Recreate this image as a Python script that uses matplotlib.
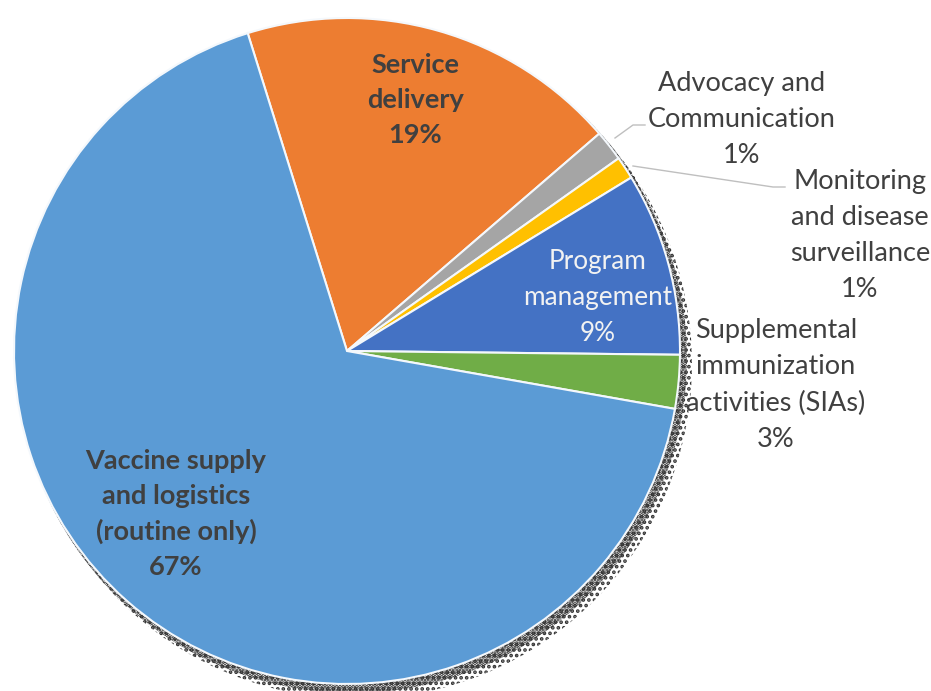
import matplotlib.pyplot as plt
from matplotlib.patches import Circle

# Data (share of spending, %)
labels = ["Service\ndelivery", "Advocacy and\nCommunication", "Monitoring\nand disease\nsurveillance",
          "Program\nmanagement", "Supplemental\nimmunization\nactivities (SIAs)",
          "Vaccine supply\nand logistics\n(routine only)"]
values = [18.5, 1.5, 1.1, 8.9, 2.6, 67.4]
pct_labels = ["19%", "1%", "1%", "9%", "3%", "67%"]
colors = ["#ED7D31", "#A5A5A5", "#FFC000", "#4472C4", "#70AD47", "#5B9BD5"]

W, H = 931, 691
fig = plt.figure(figsize=(W / 100, H / 100), dpi=100)
ax = fig.add_axes([0, 0, 1, 1])

cx, cy, r = 347, H - 351, 333
plt.rcParams['hatch.linewidth'] = 1.8

# dithered shadow behind the pie
ax.add_patch(Circle((cx + 5, cy - 7), r + 2, facecolor='none', edgecolor='#222222',
                    linewidth=0, hatch='.....', zorder=0))
ax.add_patch(Circle((cx + 10, cy - 13), r + 2, facecolor='none', edgecolor='#333333',
                    linewidth=0, hatch='...', zorder=0))

wedges, _ = ax.pie(values, colors=colors, startangle=107.35, counterclock=False,
                   center=(cx, cy), radius=r,
                   wedgeprops=dict(edgecolor='#F4F8FC', linewidth=1.5))
for w in wedges:
    w.set_zorder(1)

font = 'Lato'
dark = '#404040'
fs = 19.5

def lab(x, y, s, color=dark, weight='normal', size=fs):
    ax.text(x, H - y, s, ha='center', va='center', fontsize=size, color=color,
            fontweight=weight, family=font, linespacing=1.55, zorder=5)

lab(415, 100, labels[0] + "\n" + pct_labels[0], weight='bold')
lab(742, 119, labels[1] + "\n" + pct_labels[1])
lab(860, 235, labels[2] + "\n" + pct_labels[2])
lab(598, 297, labels[3] + "\n" + pct_labels[3], color='#F2F2F2', size=18.8)
lab(776, 385, labels[4] + "\n" + pct_labels[4])
lab(176, 514, labels[5] + "\n" + pct_labels[5], weight='bold')

# leader lines
ax.plot([615, 633, 645], [H - 138, H - 125, H - 125], color='#BFBFBF', lw=1, zorder=4)
ax.plot([633, 773, 785], [H - 166, H - 187, H - 187], color='#BFBFBF', lw=1, zorder=4)

ax.set_xlim(0, W)
ax.set_ylim(0, H)
ax.set_aspect('equal')
ax.axis('off')

plt.savefig('out.png', dpi=100)
